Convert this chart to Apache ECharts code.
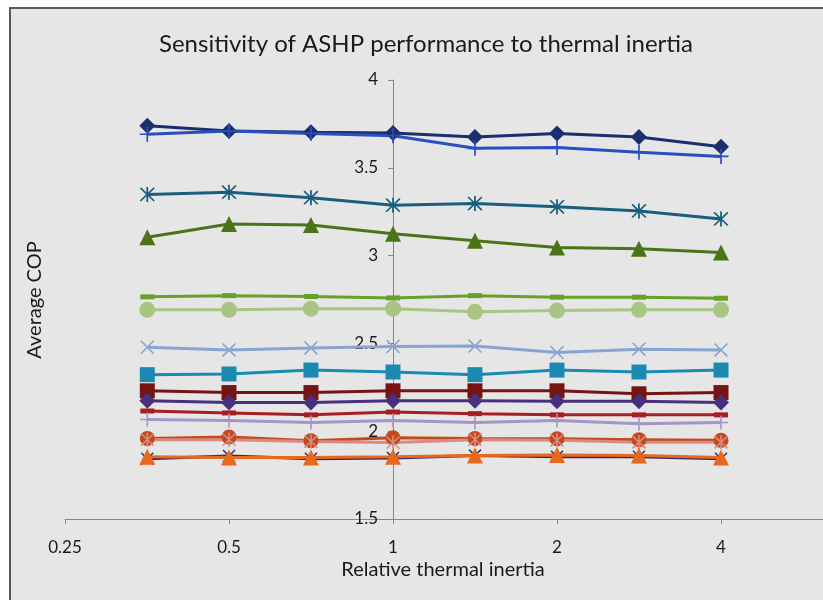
<!DOCTYPE html>
<html><head><meta charset="utf-8">
<script src="https://cdn.jsdelivr.net/npm/echarts@6/dist/echarts.min.js"></script>
<style>
html,body{margin:0;padding:0;background:#fff;overflow:hidden;}
#frame{position:absolute;left:9px;top:7px;width:900px;height:700px;background:#E6E6E6;border-left:2px solid #595959;border-top:2px solid #595959;}
#chart{position:absolute;left:0;top:0;width:823px;height:600px;}
</style></head>
<body><div id="frame"></div><div id="chart"></div>
<script>
const xValues = [0.354, 0.5, 0.707, 1, 1.414, 2, 2.828, 4];
const xTickLabels = ['0.25', '0.5', '1', '2', '4', '8'];
const yTicks = [1.5, 2, 2.5, 3, 3.5, 4];

const s1 = [3.740, 3.709, 3.702, 3.698, 3.676, 3.696, 3.676, 3.620];
const s2 = [3.691, 3.709, 3.696, 3.683, 3.611, 3.615, 3.589, 3.565];
const s3 = [3.348, 3.361, 3.330, 3.287, 3.296, 3.278, 3.254, 3.209];
const s4 = [3.104, 3.180, 3.174, 3.124, 3.085, 3.046, 3.039, 3.017];
const s5 = [2.765, 2.772, 2.767, 2.759, 2.772, 2.763, 2.763, 2.757];
const s6 = [2.691, 2.691, 2.698, 2.698, 2.680, 2.687, 2.691, 2.691];
const s7 = [2.478, 2.463, 2.474, 2.483, 2.485, 2.448, 2.467, 2.463];
const s8 = [2.322, 2.326, 2.348, 2.337, 2.322, 2.348, 2.337, 2.348];
const s9 = [2.230, 2.220, 2.220, 2.230, 2.230, 2.230, 2.213, 2.220];
const s10 = [2.174, 2.163, 2.163, 2.174, 2.174, 2.170, 2.170, 2.163];
const s11 = [2.115, 2.104, 2.093, 2.109, 2.100, 2.093, 2.093, 2.093];
const s12 = [2.067, 2.061, 2.050, 2.061, 2.050, 2.061, 2.043, 2.050];
const s13 = [1.959, 1.967, 1.946, 1.963, 1.959, 1.957, 1.952, 1.948];
const s14 = [1.952, 1.952, 1.941, 1.935, 1.952, 1.948, 1.937, 1.937];
const s15 = [1.843, 1.859, 1.843, 1.848, 1.861, 1.854, 1.854, 1.843];
const s16 = [1.854, 1.850, 1.850, 1.854, 1.861, 1.865, 1.861, 1.850];

const X_PATH = 'path://M-6.4,-7.6L7.6,6.4L6.4,7.6L-7.6,-6.4ZM6.4,-7.6L7.6,-6.4L-6.4,7.6L-7.6,6.4Z';
const AST_PATH = 'path://M-6.4,-7.6L7.6,6.4L6.4,7.6L-7.6,-6.4ZM6.4,-7.6L7.6,-6.4L-6.4,7.6L-7.6,6.4ZM-0.9,-8L0.9,-8L0.9,8L-0.9,8Z';
const PLUS_PATH = 'path://M-0.9,-8L0.9,-8L0.9,8L-0.9,8ZM-8,-0.9L8,-0.9L8,0.9L-8,0.9Z';

const seriesDefs = [
  [s1, '#1B2F6E', 'diamond', 16],
  [s2, '#2A4FBF', PLUS_PATH, 15],
  [s3, '#195E7C', AST_PATH, 15],
  [s4, '#4A7417', 'triangle', 16],
  [s5, '#68A12A', 'rect', [14, 5]],
  [s6, '#A8C584', 'circle', 16],
  [s7, '#8AA4D2', X_PATH, 14],
  [s8, '#1B8AB2', 'rect', 15],
  [s9, '#761414', 'rect', 15],
  [s10, '#47307E', 'diamond', 16],
  [s11, '#A81C24', 'rect', [14, 5]],
  [s12, '#A595C6', PLUS_PATH, 14],
  [s13, '#C44A1C', 'circle', 15],
  [s14, '#D88A84', AST_PATH, 14],
  [s15, '#35286A', X_PATH, 13],
  [s16, '#E8691C', 'triangle', 16]
];

const FONT = 'Lato';
const chart = echarts.init(document.getElementById('chart'), null, {renderer: 'canvas'});
chart.setOption({
  animation: false,
  title: {
    text: 'Sensitivity of ASHP performance to thermal inertia',
    left: 421, top: 27, textAlign: 'center',
    textStyle: {fontFamily: FONT, fontSize: 24, fontWeight: 'normal', color: '#1a1a1a'}
  },
  grid: {left: 65, right: -62, top: 80, bottom: 81, containLabel: false, outerBoundsMode: 'none'},
  xAxis: {
    type: 'log', logBase: 2, min: 0.25, max: 8,
    axisLine: {lineStyle: {color: '#868686', width: 1}},
    axisTick: {show: true, length: 5, lineStyle: {color: '#868686'}},
    axisLabel: {fontFamily: FONT, fontSize: 17, color: '#1a1a1a', margin: 20,
      formatter: function (v) {
        const lbl = xTickLabels.find(t => Math.abs(parseFloat(t) - v) < 1e-6);
        return lbl || '';
      }},
    splitLine: {show: false}, minorTick: {show: false}
  },
  yAxis: {
    type: 'value', min: yTicks[0], max: yTicks[yTicks.length - 1], interval: 0.5,
    offset: -328,
    axisLine: {show: true, lineStyle: {color: '#868686', width: 1}},
    axisTick: {show: true, length: 5, lineStyle: {color: '#868686'}},
    axisLabel: {fontFamily: FONT, fontSize: 17, color: '#1a1a1a', margin: 15,
      formatter: v => String(v)},
    splitLine: {show: false}
  },
  graphic: [{
    type: 'text', x: 35, y: 300, rotation: Math.PI / 2,
    style: {text: 'Average COP', fill: '#1a1a1a', font: '20px Lato', textAlign: 'center', textVerticalAlign: 'middle'}
  }, {
    type: 'text', x: 443, y: 570,
    style: {text: 'Relative thermal inertia', fill: '#1a1a1a', font: '20px Lato', textAlign: 'center', textVerticalAlign: 'middle'}
  }],
  series: seriesDefs.map(d => ({
    type: 'line',
    data: xValues.map((x, i) => [x, d[0][i]]),
    symbol: d[2], symbolSize: d[3], showSymbol: true,
    lineStyle: {color: d[1], width: 3},
    itemStyle: {color: d[1], borderWidth: 0},
    z: 2
  }))
});
</script></body></html>
